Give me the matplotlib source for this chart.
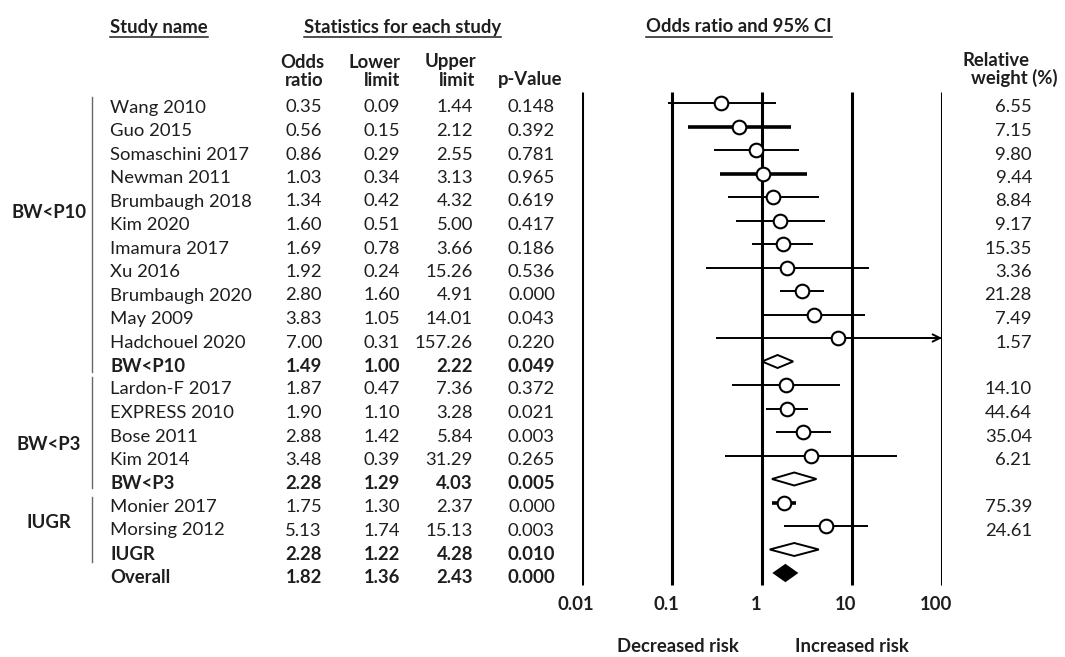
import matplotlib
matplotlib.use("Agg")
import matplotlib.pyplot as plt
from matplotlib.patches import Polygon
import matplotlib.transforms as mtransforms
import numpy as np

# ---------------- data ----------------
studies = ["Wang 2010", "Guo 2015", "Somaschini 2017", "Newman 2011", "Brumbaugh 2018",
           "Kim 2020", "Imamura 2017", "Xu 2016", "Brumbaugh 2020", "May 2009",
           "Hadchouel 2020", "BW<P10", "Lardon-F 2017", "EXPRESS 2010", "Bose 2011",
           "Kim 2014", "BW<P3", "Monier 2017", "Morsing 2012", "IUGR", "Overall"]
odds = [0.35, 0.56, 0.86, 1.03, 1.34, 1.60, 1.69, 1.92, 2.80, 3.83, 7.00, 1.49,
        1.87, 1.90, 2.88, 3.48, 2.28, 1.75, 5.13, 2.28, 1.82]
lower = [0.09, 0.15, 0.29, 0.34, 0.42, 0.51, 0.78, 0.24, 1.60, 1.05, 0.31, 1.00,
         0.47, 1.10, 1.42, 0.39, 1.29, 1.30, 1.74, 1.22, 1.36]
upper = [1.44, 2.12, 2.55, 3.13, 4.32, 5.00, 3.66, 15.26, 4.91, 14.01, 157.26, 2.22,
         7.36, 3.28, 5.84, 31.29, 4.03, 2.37, 15.13, 4.28, 2.43]
pvals = [0.148, 0.392, 0.781, 0.965, 0.619, 0.417, 0.186, 0.536, 0.000, 0.043, 0.220, 0.049,
         0.372, 0.021, 0.003, 0.265, 0.005, 0.000, 0.003, 0.010, 0.000]
weights = ["6.55", "7.15", "9.80", "9.44", "8.84", "9.17", "15.35", "3.36", "21.28", "7.49",
           "1.57", "", "14.10", "44.64", "35.04", "6.21", "", "75.39", "24.61", "", ""]
is_summary = [False] * 11 + [True] + [False] * 4 + [True] + [False] * 2 + [True, True]
group_names = ["BW<P10", "BW<P3", "IUGR"]
tick_values = [0.01, 0.1, 1, 10, 100]
tick_labels = ["0.01", "0.1", "1", "10", "100"]
thick_rows = {"Guo 2015", "Newman 2011", "Monier 2017"}

# ---------------- layout ----------------
W, H = 1065, 657
Y0, STEP, TXT_DY = 103, 23.5, 4.5
FONT = ["Lato", "DejaVu Sans"]
FS = 13.3
TXT = "#1e1e1e"
plt.rcParams["font.family"] = FONT

fig = plt.figure(figsize=(W / 100, H / 100), dpi=100)
tax = fig.add_axes([0, 0, 1, 1])
tax.set_xlim(0, W)
tax.set_ylim(H, 0)
tax.axis("off")

fax = fig.add_axes([582 / W, 0, (942 - 582) / W, 1])
fax.set_xscale("log")
fax.set_xlim(0.01, 100)
fax.set_ylim(H, 0)
fax.axis("off")

ys = Y0 + STEP * np.arange(len(studies))

# vertical reference lines
fax.vlines(tick_values, 92, 585, color="black", lw=2.2, zorder=1)

# marks
for name, o, lo, hi, y, summ in zip(studies, odds, lower, upper, ys, is_summary):
    if summ:
        h = 8 if name == "Overall" else 6.5
        fc = "black" if name == "Overall" else "white"
        poly = Polygon([(lo, y), (o, y - h), (hi, y), (o, y + h)], closed=True,
                       facecolor=fc, edgecolor="black", lw=1.4, zorder=3)
        fax.add_patch(poly)
    else:
        lw = 2.6 if name in thick_rows else 1.4
        hi_d = min(hi, 100)
        fax.plot([lo, hi_d], [y, y], color="black", lw=lw, solid_capstyle="butt",
                 zorder=2, clip_on=False)
        if hi > 100:
            fax.annotate("", xy=(100, y), xytext=(60, y),
                         arrowprops=dict(arrowstyle="->", color="black", lw=1.4,
                                         mutation_scale=13, shrinkA=0, shrinkB=0),
                         zorder=2, annotation_clip=False)
        fax.plot(o, y, "o", ms=9.8, mfc="white", mec="black", mew=1.5, zorder=4,
                 clip_on=False)

# table text
for name, o, lo, hi, p, w, y, summ in zip(studies, odds, lower, upper, pvals, weights,
                                          ys, is_summary):
    fw = "bold" if summ else "normal"
    ty = y + TXT_DY
    kw = dict(va="center", fontsize=FS, color=TXT, fontweight=fw)
    tax.text(110, ty, name, ha="left", **kw)
    tax.text(322, ty, f"{o:.2f}", ha="right", **kw)
    tax.text(400, ty, f"{lo:.2f}", ha="right", **kw)
    tax.text(473, ty, f"{hi:.2f}", ha="right", **kw)
    tax.text(555, ty, f"{p:.3f}", ha="right", **kw)
    if w:
        tax.text(1032, ty, w, ha="right", **kw)

# group labels and brackets
for g, gy in zip(group_names, [213, 444, 523]):
    tax.text(49, gy, g, ha="center", va="center", fontsize=FS, color=TXT,
             fontweight="bold")
for (a, b) in [(97, 372), (377, 488), (497, 562)]:
    tax.plot([92, 92], [a, b], color="#666666", lw=1.0)

# headers
hkw = dict(fontsize=FS, color=TXT, fontweight="bold")
heads = [tax.text(110, 27, "Study name", ha="left", va="center", **hkw),
         tax.text(304, 27, "Statistics for each study", ha="left", va="center", **hkw),
         tax.text(646, 27, "Odds ratio and 95% CI", ha="left", va="center", **hkw)]
tax.text(324, 62, "Odds", ha="right", va="center", **hkw)
tax.text(324, 80, "ratio", ha="right", va="center", **hkw)
tax.text(401, 62, "Lower", ha="right", va="center", **hkw)
tax.text(400, 80, "limit", ha="right", va="center", **hkw)
tax.text(476, 62, "Upper", ha="right", va="center", **hkw)
tax.text(475, 80, "limit", ha="right", va="center", **hkw)
tax.text(562, 80, "p-Value", ha="right", va="center", **hkw)
tax.text(963, 60, "Relative", ha="left", va="center", **hkw)
tax.text(971, 78, "weight (%)", ha="left", va="center", **hkw)

# underline headers
fig.canvas.draw()
renderer = fig.canvas.get_renderer()
inv = tax.transData.inverted()
for t in heads:
    bb = t.get_window_extent(renderer)
    (x0, _), (x1, _) = inv.transform([(bb.x0, bb.y0), (bb.x1, bb.y0)])
    tax.plot([x0, x1], [37, 37], color=TXT, lw=1.1)

# axis tick labels
off = mtransforms.offset_copy(fax.transData, fig=fig, x=-6, y=0, units="dots")
for v, lab in zip(tick_values, tick_labels):
    fax.text(v, 605, lab, transform=off, ha="center", va="center", fontsize=FS,
             color=TXT, fontweight="bold", clip_on=False)

tax.text(678, 647, "Decreased risk", ha="center", va="center", **hkw)
tax.text(852, 647, "Increased risk", ha="center", va="center", **hkw)

fig.savefig("out.png", dpi=100)
